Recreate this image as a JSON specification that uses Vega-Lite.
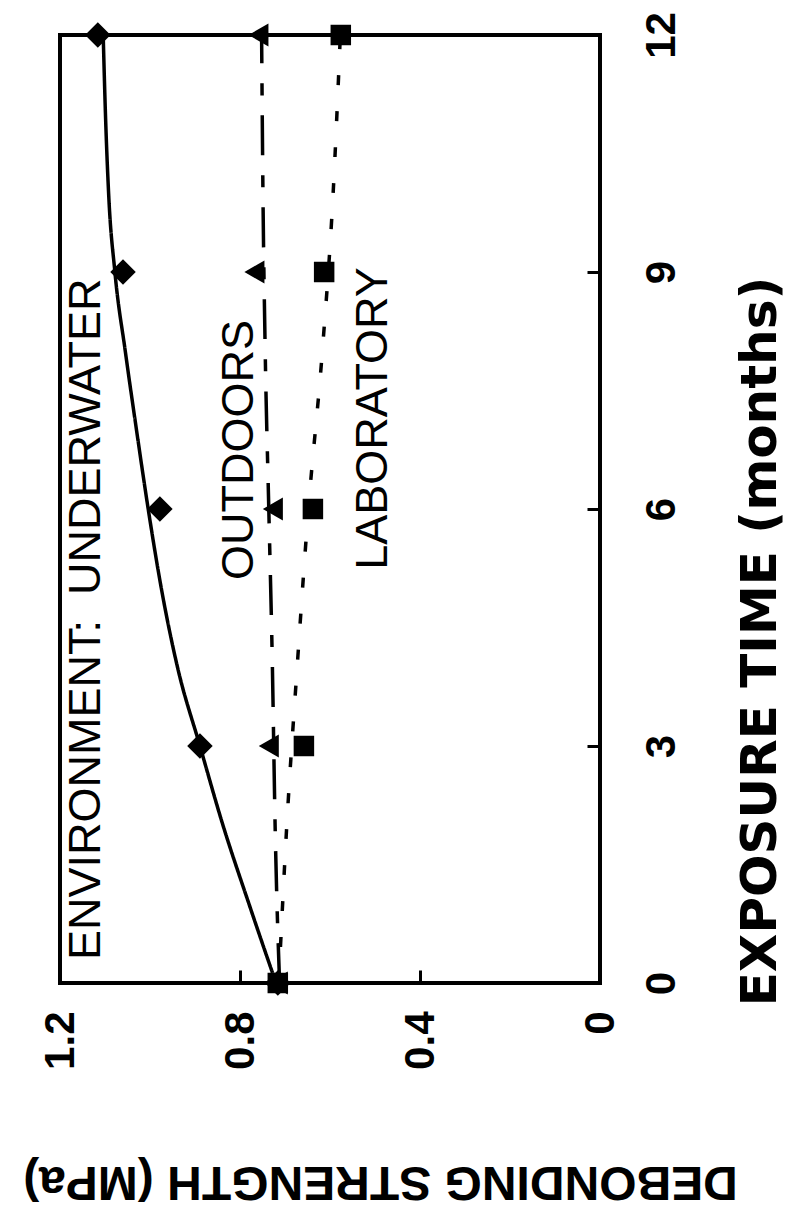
{
  "$schema": "https://vega.github.io/schema/vega-lite/v6.json",
  "width": 540,
  "height": 948,
  "autosize": "none",
  "padding": {"left": 60, "top": 35, "right": 187, "bottom": 230},
  "background": "white",
  "config": {"view": {"stroke": "black", "strokeWidth": 4}, "font": "Liberation Sans"},
  "datasets": {
    "fits": [
      {"env": "UNDERWATER", "t": 0, "s": 0.72},
      {"env": "UNDERWATER", "t": 1, "s": 0.78},
      {"env": "UNDERWATER", "t": 2, "s": 0.838},
      {"env": "UNDERWATER", "t": 3, "s": 0.889},
      {"env": "UNDERWATER", "t": 4, "s": 0.939},
      {"env": "UNDERWATER", "t": 5, "s": 0.975},
      {"env": "UNDERWATER", "t": 6, "s": 1.004},
      {"env": "UNDERWATER", "t": 7, "s": 1.03},
      {"env": "UNDERWATER", "t": 8, "s": 1.055},
      {"env": "UNDERWATER", "t": 9, "s": 1.078},
      {"env": "UNDERWATER", "t": 10, "s": 1.092},
      {"env": "UNDERWATER", "t": 11, "s": 1.099},
      {"env": "UNDERWATER", "t": 12, "s": 1.104},
      {"env": "OUTDOORS", "t": 0, "s": 0.712},
      {"env": "OUTDOORS", "t": 2, "s": 0.722},
      {"env": "OUTDOORS", "t": 4, "s": 0.728},
      {"env": "OUTDOORS", "t": 6, "s": 0.736},
      {"env": "OUTDOORS", "t": 8, "s": 0.744},
      {"env": "OUTDOORS", "t": 10, "s": 0.749},
      {"env": "OUTDOORS", "t": 12, "s": 0.752},
      {"env": "LABORATORY", "t": 0, "s": 0.714},
      {"env": "LABORATORY", "t": 2, "s": 0.696},
      {"env": "LABORATORY", "t": 4, "s": 0.673},
      {"env": "LABORATORY", "t": 6, "s": 0.648},
      {"env": "LABORATORY", "t": 8, "s": 0.617},
      {"env": "LABORATORY", "t": 10, "s": 0.593},
      {"env": "LABORATORY", "t": 12, "s": 0.577}
    ],
    "points": [
      {"env": "UNDERWATER", "t": 0, "s": 0.716},
      {"env": "UNDERWATER", "t": 3, "s": 0.889},
      {"env": "UNDERWATER", "t": 6, "s": 0.978},
      {"env": "UNDERWATER", "t": 9, "s": 1.06},
      {"env": "UNDERWATER", "t": 12, "s": 1.116},
      {"env": "OUTDOORS", "t": 0, "s": 0.716},
      {"env": "OUTDOORS", "t": 3, "s": 0.736},
      {"env": "OUTDOORS", "t": 6, "s": 0.727},
      {"env": "OUTDOORS", "t": 9, "s": 0.768},
      {"env": "OUTDOORS", "t": 12, "s": 0.759},
      {"env": "LABORATORY", "t": 0, "s": 0.716},
      {"env": "LABORATORY", "t": 3, "s": 0.658},
      {"env": "LABORATORY", "t": 6, "s": 0.638},
      {"env": "LABORATORY", "t": 9, "s": 0.613},
      {"env": "LABORATORY", "t": 12, "s": 0.576}
    ],
    "notes": [
      {"label": "ENVIRONMENT:\u00a0 UNDERWATER", "s": 1.111, "t": 0.29},
      {"label": "OUTDOORS", "s": 0.771, "t": 5.1},
      {"label": "LABORATORY", "s": 0.473, "t": 5.23}
    ]
  },
  "layer": [
    {
      "data": {"name": "fits"},
      "mark": {"type": "line", "color": "black", "strokeWidth": 3.5, "interpolate": "monotone"},
      "encoding": {
        "x": {
          "field": "s", "type": "quantitative",
          "scale": {"domain": [0, 1.2], "reverse": true, "nice": false, "zero": false},
          "axis": {
            "orient": "bottom", "values": [0, 0.4, 0.8, 1.2], "format": "~g",
            "grid": false, "domain": false, "ticks": true, "tickSize": -13, "tickWidth": 3, "tickColor": "black",
            "labelAngle": 270, "labelAlign": "right", "labelBaseline": "middle", "labelPadding": 41,
            "labelFontSize": 42, "labelFontWeight": "bold", "labelColor": "black", "labelFont": "Liberation Sans",
            "labelFlush": false, "labelOverlap": false,
            "title": "DEBONDING STRENGTH (MPa)", "titleAngle": 180, "titleFontSize": 48, "titleFontWeight": "bold",
            "titleColor": "black", "titleFont": "Liberation Sans", "titleX": 320, "titleY": 197,
            "titleAlign": "center", "titleBaseline": "middle"
          }
        },
        "y": {
          "field": "t", "type": "quantitative",
          "scale": {"domain": [0, 12], "nice": false, "zero": false},
          "axis": {
            "orient": "right", "values": [0, 3, 6, 9, 12], "format": "~g",
            "grid": false, "domain": false, "ticks": true, "tickSize": -13, "tickWidth": 3, "tickColor": "black",
            "labelAngle": 270, "labelAlign": "center", "labelBaseline": "top", "labelPadding": 54,
            "labelFontSize": 42, "labelFontWeight": "bold", "labelColor": "black", "labelFont": "Liberation Sans",
            "labelFlush": false, "labelOverlap": false,
            "title": "EXPOSURE TIME (months)", "titleAngle": 270, "titleFontSize": 50, "titleFontWeight": "bold",
            "titleColor": "black", "titleFont": "DejaVu Sans", "titleX": 135, "titleY": 606,
            "titleAlign": "center", "titleBaseline": "top"
          }
        },
        "order": {"field": "t"},
        "strokeDash": {
          "field": "env", "type": "nominal",
          "scale": {"domain": ["UNDERWATER", "OUTDOORS", "LABORATORY"], "range": [[1, 0], [40, 20, 12, 20], [10, 26]]},
          "legend": null
        }
      }
    },
    {
      "data": {"name": "points"},
      "mark": {"type": "point", "filled": true, "color": "black", "opacity": 1},
      "encoding": {
        "x": {"field": "s", "type": "quantitative"},
        "y": {"field": "t", "type": "quantitative"},
        "shape": {
          "field": "env", "type": "nominal",
          "scale": {"domain": ["UNDERWATER", "OUTDOORS", "LABORATORY"], "range": ["diamond", "triangle-left", "square"]},
          "legend": null
        },
        "size": {
          "field": "env", "type": "nominal",
          "scale": {"domain": ["UNDERWATER", "OUTDOORS", "LABORATORY"], "range": [650, 420, 361]},
          "legend": null
        }
      }
    },
    {
      "data": {"name": "notes"},
      "mark": {"type": "text", "angle": 270, "align": "left", "baseline": "alphabetic", "fontSize": 45, "font": "Liberation Sans", "color": "black"},
      "encoding": {
        "x": {"field": "s", "type": "quantitative"},
        "y": {"field": "t", "type": "quantitative"},
        "text": {"field": "label"}
      }
    }
  ]
}
